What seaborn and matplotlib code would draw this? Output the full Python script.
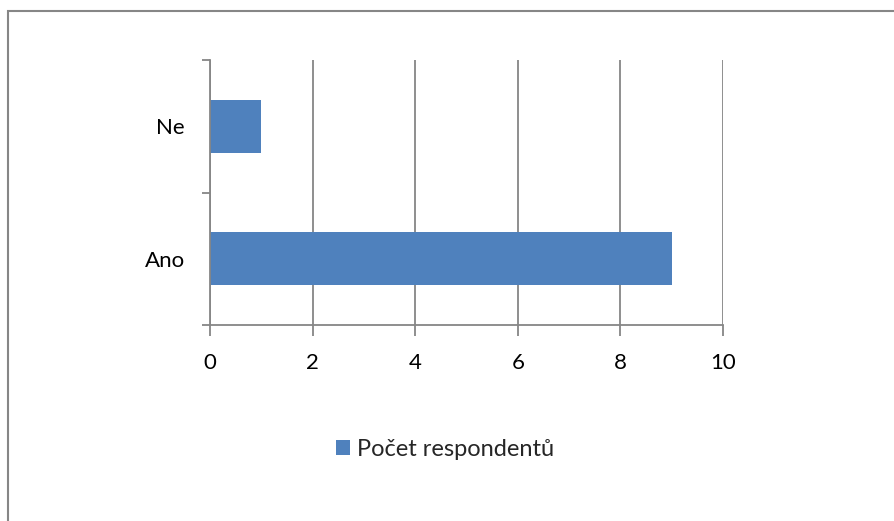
import matplotlib
matplotlib.use("Agg")
import matplotlib.pyplot as plt
import seaborn as sns
import pandas as pd
from matplotlib.patches import Rectangle, Patch

categories = ["Ne", "Ano"]
values = [1, 9]
series_name = "Počet respondentů"
x_ticks = [0, 2, 4, 6, 8, 10]

sns.set_theme(style="white")
plt.rcParams['font.family'] = ['Lato', 'DejaVu Sans']

bar_color = "#4F81BD"
grid_color = "#868686"

df = pd.DataFrame({"cat": categories, "val": values})

fig = plt.figure(figsize=(8.94, 5.21), dpi=100)
ax = fig.add_axes([210/894, 1-325/521, (723-210)/894, (325-60)/521])

sns.barplot(data=df, y="cat", x="val", order=categories, orient="h",
            color=bar_color, saturation=1, width=0.4, linewidth=0, ax=ax)

ax.set_xlim(0, 10)
ax.set_ylim(1.5, -0.5)
ax.set_xticks(x_ticks)
ax.set_xticklabels([str(t) for t in x_ticks])
ax.set_yticks([-0.5, 0.5, 1.5])
ax.set_yticklabels([])
ax.set_yticks([0, 1], minor=True)
ax.set_yticklabels(categories, minor=True)
ax.set_xlabel("")
ax.set_ylabel("")

ax.grid(axis="x", color=grid_color, linewidth=1.3)
ax.set_axisbelow(True)
for s in ["top", "right"]:
    ax.spines[s].set_visible(False)
for s in ["left", "bottom"]:
    ax.spines[s].set_color(grid_color)
    ax.spines[s].set_linewidth(1.3)

ax.tick_params(axis="x", which="major", direction="out", length=8, width=1.3,
               color=grid_color, labelsize=16, labelcolor="black", pad=12, bottom=True)
ax.tick_params(axis="y", which="major", direction="out", length=6, width=1.3,
               color=grid_color, left=True)
ax.tick_params(axis="y", which="minor", length=0, labelsize=16, labelcolor="black", pad=18, left=True)

handle = Patch(facecolor=bar_color, edgecolor="none")
fig.legend([handle], [series_name], loc="center", bbox_to_anchor=(445/894, 1-449/521),
           frameon=False, fontsize=17, handlelength=0.6, handleheight=0.6,
           handletextpad=0.3)

fig.patches.append(Rectangle((8/894, -0.5), 2, 1.5-11/521, transform=fig.transFigure,
                             fill=False, edgecolor="#868686", linewidth=1.5))

fig.savefig("out.png", dpi=100)
